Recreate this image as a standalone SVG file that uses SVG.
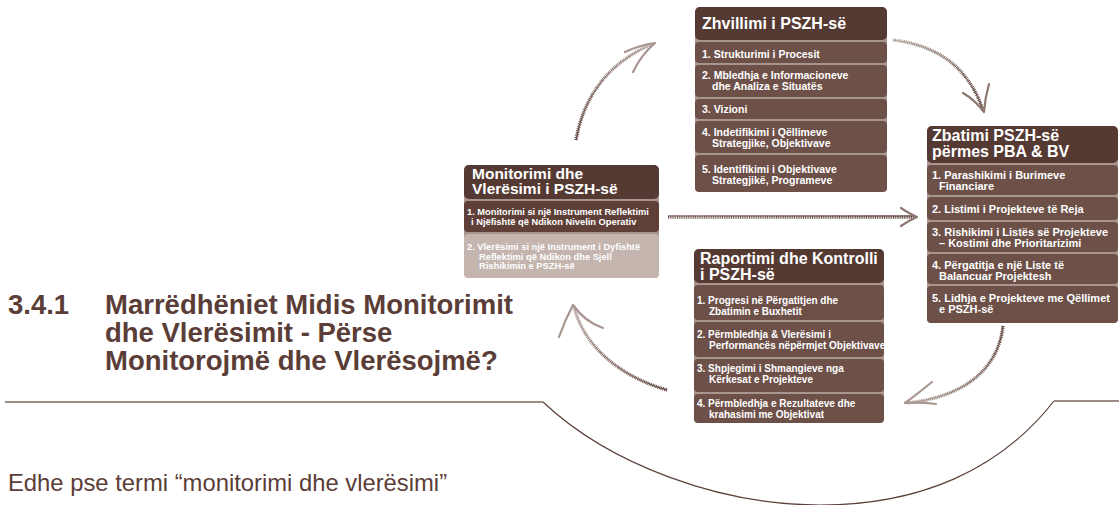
<svg xmlns="http://www.w3.org/2000/svg" width="1120" height="505" viewBox="0 0 1120 505">
<style>
.bg{fill:#a8958f}
.hd{fill:#553a33}
.it{fill:#6d5149}
.itd{fill:#5e4039}
.itl{fill:#c4b5af}
.ht{font-family:"Liberation Sans",Arial,sans-serif;font-weight:bold;fill:#ffffff}
.tx{font-family:"Liberation Sans",Arial,sans-serif;font-weight:bold;fill:#ffffff}
.title{font-family:"Liberation Sans",Arial,sans-serif;font-weight:bold;fill:#5b3d37;font-size:27.5px}
.body{font-family:"Liberation Sans",Arial,sans-serif;fill:#5b3d37;font-size:23.8px}
.dots{fill:none;stroke-width:3.4;stroke-dasharray:1 0.8}
.edge{fill:none;stroke-width:1}
.barb{fill:none;stroke-width:2.2;stroke-linecap:round}
</style>
<defs>
<linearGradient id="gA" gradientUnits="userSpaceOnUse" x1="576" y1="140" x2="655" y2="43"><stop offset="0" stop-color="#5b3f39"/><stop offset="1" stop-color="#b5a49e"/></linearGradient>
<linearGradient id="gB" gradientUnits="userSpaceOnUse" x1="893" y1="40" x2="984" y2="112"><stop offset="0" stop-color="#b5a49e"/><stop offset="1" stop-color="#5b3f39"/></linearGradient>
<linearGradient id="gC" gradientUnits="userSpaceOnUse" x1="1003" y1="326" x2="905" y2="403"><stop offset="0" stop-color="#5b3f39"/><stop offset="1" stop-color="#b5a49e"/></linearGradient>
<linearGradient id="gD" gradientUnits="userSpaceOnUse" x1="667" y1="390" x2="573" y2="305"><stop offset="0" stop-color="#5b3f39"/><stop offset="1" stop-color="#b5a49e"/></linearGradient>
<linearGradient id="gE" gradientUnits="userSpaceOnUse" x1="668" y1="217" x2="917" y2="217"><stop offset="0" stop-color="#7a605a"/><stop offset="1" stop-color="#5b3f39"/></linearGradient>
</defs>

<g id="frame">
<path d="M5,402 L543,402" fill="none" stroke="#7d6761" stroke-width="1.4"/>
<path d="M543,402 C610,465 720,505 820,505 C920,505 1000,470 1054,401" fill="none" stroke="#5b3f39" stroke-width="1.2"/>
<path d="M1054,401 L1119,401" fill="none" stroke="#7d6761" stroke-width="1.4"/>
</g>

<g id="heading">
<text class="title" x="8" y="314">3.4.1</text>
<text class="title" x="105" y="314">Marrëdhëniet Midis Monitorimit</text>
<text class="title" x="105" y="342">dhe Vlerësimit - Përse</text>
<text class="title" x="105" y="370">Monitorojmë dhe Vlerësojmë?</text>
<text class="body" x="8" y="491">Edhe pse termi “monitorimi dhe vlerësimi”</text>
</g>

<g id="connectors">
<g id="arrowA">
<path class="dots" d="M576,140 Q588,72 652,44" stroke="url(#gA)"/>
<path class="edge" d="M576,140 Q588,72 652,44" stroke="url(#gA)"/>
<path class="barb" d="M625,52 Q640,45 655,43 M633,72 Q641,55 655,43" stroke="#a8958f"/>
</g>
<g id="arrowB">
<path class="dots" d="M893,40 Q962,48 983,110" stroke="url(#gB)"/>
<path class="edge" d="M893,40 Q962,48 983,110" stroke="url(#gB)"/>
<path class="barb" d="M963,93 Q975,100 984,112 M989,84 Q985,98 984,112" stroke="#8d7770"/>
</g>
<g id="arrowC">
<path class="dots" d="M1003,326 C998,372 960,398 906,403" stroke="url(#gC)"/>
<path class="edge" d="M1003,326 C998,372 960,398 906,403" stroke="url(#gC)"/>
<path class="barb" d="M932,382 Q916,395 905,403 M936,404 Q920,402 905,403" stroke="#a8958f"/>
</g>
<g id="arrowD">
<path class="dots" d="M667,390 C625,378 585,350 574,307" stroke="url(#gD)"/>
<path class="edge" d="M667,390 C625,378 585,350 574,307" stroke="url(#gD)"/>
<path class="barb" d="M603,328 Q585,322 573,305 M559,337 Q565,320 573,305" stroke="#a8958f"/>
</g>
<g id="arrowE">
<path class="dots" d="M668,217 L914,217" stroke="url(#gE)"/>
<path class="edge" d="M668,216 L914,216" stroke="url(#gE)"/>
<path class="barb" d="M901,208 Q910,214 917,217 M901,226 Q910,220 917,217" stroke="#8d7770"/>
</g>
</g>

<g id="node-zhvillimi">
<rect class="bg" x="695" y="7" width="192" height="185" rx="5"/>
<rect class="hd" x="695" y="7" width="192" height="33" rx="5"/>
<rect class="it" x="695" y="42" width="192" height="21" rx="4"/>
<rect class="it" x="695" y="65" width="192" height="32" rx="4"/>
<rect class="it" x="695" y="99" width="192" height="20" rx="4"/>
<rect class="it" x="695" y="121" width="192" height="32" rx="4"/>
<rect class="it" x="695" y="155" width="192" height="37" rx="4"/>
<text class="ht" x="702" y="29" font-size="16">Zhvillimi i PSZH-së</text>
<g class="tx" font-size="10.5">
<text x="702" y="58">1. Strukturimi i Procesit</text>
<text x="702" y="79">2. Mbledhja e Informacioneve</text>
<text x="712" y="90">dhe Analiza e Situatës</text>
<text x="702" y="113">3. Vizioni</text>
<text x="702" y="136">4. Indetifikimi i  Qëllimeve</text>
<text x="712" y="147">Strategjike, Objektivave</text>
<text x="702" y="173">5. Identifikimi i  Objektivave</text>
<text x="712" y="184">Strategjikë, Programeve</text>
</g>
</g>

<g id="node-zbatimi">
<rect class="bg" x="927" y="126" width="191" height="197" rx="5"/>
<rect class="hd" x="927" y="126" width="191" height="37" rx="5"/>
<rect class="it" x="927" y="165" width="191" height="30" rx="4"/>
<rect class="it" x="927" y="197" width="191" height="23" rx="4"/>
<rect class="it" x="927" y="222" width="191" height="30" rx="4"/>
<rect class="it" x="927" y="254" width="191" height="30" rx="4"/>
<rect class="it" x="927" y="286" width="191" height="37" rx="4"/>
<text class="ht" x="932" y="141" font-size="16">Zbatimi PSZH-së</text>
<text class="ht" x="932" y="157" font-size="16">përmes PBA &amp; BV</text>
<g class="tx" font-size="11">
<text x="932" y="179">1. Parashikimi  i Burimeve</text>
<text x="939" y="190">Financiare</text>
<text x="932" y="213">2. Listimi i Projekteve të Reja</text>
<text x="932" y="236">3. Rishikimi i Listës së Projekteve</text>
<text x="939" y="247">– Kostimi dhe Prioritarizimi</text>
<text x="932" y="269">4. Përgatitja e një Liste të</text>
<text x="939" y="280">Balancuar Projektesh</text>
<text x="932" y="302">5. Lidhja e Projekteve me Qëllimet</text>
<text x="939" y="313">e PSZH-së</text>
</g>
</g>

<g id="node-raportimi">
<rect class="bg" x="694" y="249" width="190" height="174" rx="5"/>
<rect class="hd" x="694" y="249" width="190" height="34" rx="5"/>
<rect class="it" x="694" y="285" width="190" height="35" rx="4"/>
<rect class="it" x="694" y="322" width="190" height="35" rx="4"/>
<rect class="it" x="694" y="359" width="190" height="33" rx="4"/>
<rect class="it" x="694" y="394" width="190" height="29" rx="4"/>
<text class="ht" x="700" y="264" font-size="16">Raportimi dhe Kontrolli</text>
<text class="ht" x="700" y="280" font-size="16">i PSZH-së</text>
<g class="tx" font-size="10">
<text x="697" y="304">1. Progresi  në Përgatitjen dhe</text>
<text x="709" y="315">Zbatimin e Buxhetit</text>
<text x="697" y="338">2. Përmbledhja &amp; Vlerësimi i</text>
<text x="709" y="349">Performancës nëpërmjet Objektivave</text>
<text x="697" y="372">3. Shpjegimi i Shmangieve nga</text>
<text x="709" y="383">Kërkesat e Projekteve</text>
<text x="697" y="407">4. Përmbledhja e Rezultateve dhe</text>
<text x="709" y="418">krahasimi me Objektivat</text>
</g>
</g>

<g id="node-monitorimi">
<rect class="bg" x="464" y="165" width="195" height="113" rx="5"/>
<rect class="hd" x="464" y="165" width="195" height="34" rx="5"/>
<rect class="itd" x="464" y="201" width="195" height="31" rx="4"/>
<rect class="itl" x="464" y="234" width="195" height="44" rx="4"/>
<text class="ht" x="472" y="179" font-size="15.5">Monitorimi dhe</text>
<text class="ht" x="472" y="194" font-size="15.5">Vlerësimi  i PSZH-së</text>
<g class="tx" font-size="9.3">
<text x="467" y="215">1. Monitorimi  si një Instrument Reflektimi</text>
<text x="471" y="225">i Njëfishtë që Ndikon Nivelin Operativ</text>
<text x="467" y="250">2. Vlerësimi si një Instrument i Dyfishtë</text>
<text x="479" y="259.5">Reflektimi që Ndikon dhe Sjell</text>
<text x="479" y="269">Rishikimin e PSZH-së</text>
</g>
</g>
</svg>
